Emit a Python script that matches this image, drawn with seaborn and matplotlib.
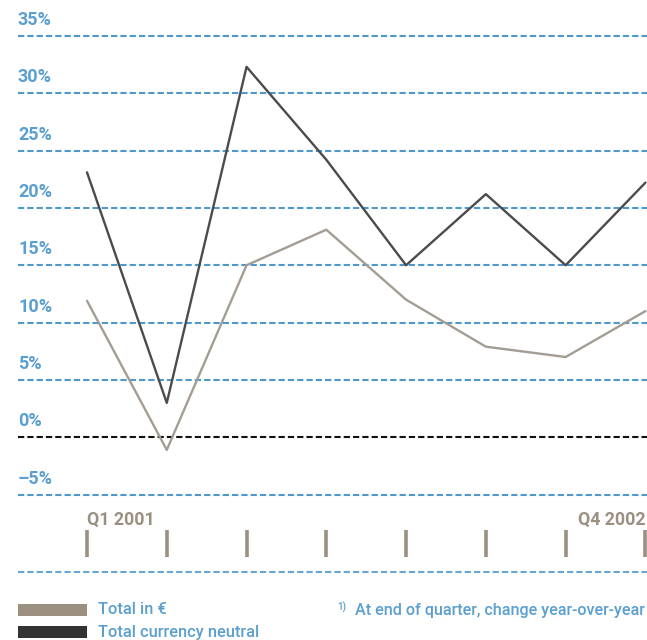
import numpy as np
import pandas as pd
import matplotlib
matplotlib.use("Agg")
import matplotlib.pyplot as plt
from matplotlib.patches import Rectangle
import seaborn as sns

# Quarterly growth, change year-over-year (%)
quarters = ["Q1 2001", "Q2 2001", "Q3 2001", "Q4 2001",
            "Q1 2002", "Q2 2002", "Q3 2002", "Q4 2002"]
total_eur = [11.9, -1.1, 15.0, 18.1, 12.0, 7.9, 7.0, 11.0]
total_cn = [23.1, 3.0, 32.3, 24.2, 15.0, 21.2, 15.0, 22.2]
series_names = ["Total in €", "Total currency neutral"]
y_levels = [35, 30, 25, 20, 15, 10, 5, 0, -5]
y_labels = ["35%", "30%", "25%", "20%", "15%", "10%", "5%", "0%", "–5%"]

BLUE = "#4f98cb"
BLUE_TXT = "#5a9fcf"
BEIGE = "#9b9080"
GREY_LINE = "#a39d94"
DARK_LINE = "#4b4b4d"
DARK_PATCH = "#333333"

sns.set_theme(style="white")
plt.rcParams["font.family"] = ["Roboto", "DejaVu Sans"]
plt.rcParams["lines.scale_dashes"] = False

W, H = 647, 640
fig = plt.figure(figsize=(W / 100, H / 100), dpi=100)
ax = fig.add_axes([0, 0, 1, 1])
ax.set_facecolor("white")

df = pd.DataFrame({
    "pos": list(range(len(quarters))) * 2,
    "value": total_eur + total_cn,
    "series": [series_names[0]] * len(quarters) + [series_names[1]] * len(quarters),
})

# axis scaling: first quarter at 87px, quarter spacing ~79.8px
step = 79.77
ax.set_xlim(-87 / step, len(quarters) - 1 + (W - 645.4) / step)
zero_px, per_pct = 437.3, 11.47
ax.set_ylim((zero_px - H) / per_pct, zero_px / per_pct)

x_left = 18 / W
dash = (0, (4.5, 2.2))

# horizontal guides
for lvl, lab in zip(y_levels, y_labels):
    col = "#111111" if lvl == 0 else BLUE
    ax.axhline(lvl, xmin=x_left, xmax=1, color=col, lw=1.5, linestyle=dash, zorder=1)
    ax.annotate(lab, xy=(x_left, lvl), xycoords=("axes fraction", "data"),
                xytext=(0, 11), textcoords="offset pixels",
                ha="left", va="baseline", fontsize=13, fontweight="bold",
                color=BLUE_TXT)

# separator below the quarter ticks
ax.axhline(ax.get_ylim()[0] + (H - 572) / per_pct, xmin=x_left, xmax=1,
           color=BLUE, lw=1.5, linestyle=dash, alpha=0.85)

sns.lineplot(data=df, x="pos", y="value", hue="series", ax=ax,
             palette={series_names[0]: GREY_LINE, series_names[1]: DARK_LINE},
             linewidth=1.7, legend=False, sort=False, zorder=3)

# quarter tick marks
xt = ax.get_xaxis_transform()
ax.vlines(range(len(quarters)), 1 - 557 / H, 1 - 530 / H, transform=xt,
          color=BEIGE, linewidth=2.6)
ax.text(0, 1 - 525 / H, quarters[0], transform=xt, ha="left", va="baseline",
        fontsize=12.8, fontweight="bold", color=BEIGE)
ax.text(len(quarters) - 1, 1 - 525 / H, quarters[-1], transform=xt, ha="right",
        va="baseline", fontsize=12.8, fontweight="bold", color=BEIGE)

ax.set_xlabel("")
ax.set_ylabel("")
ax.set_xticks([])
ax.set_yticks([])
for s in ax.spines.values():
    s.set_visible(False)

# legend
for name, col, yc in [(series_names[0], BEIGE, 610), (series_names[1], DARK_PATCH, 632)]:
    fig.add_artist(Rectangle((18 / W, 1 - (yc + 6) / H), 69 / W, 12 / H,
                             transform=fig.transFigure, color=col, lw=0))
    fig.text(98 / W, 1 - yc / H, name, ha="left", va="center",
             fontsize=11.8, fontweight="medium", color=BLUE_TXT)

# footnote
fig.text(645 / W, 1 - 611 / H, "At end of quarter, change year-over-year",
         ha="right", va="center", fontsize=11.6, fontweight="medium", color=BLUE_TXT)
fig.text(337 / W, 1 - 607 / H, "1)", ha="left", va="center",
         fontsize=7, fontweight="medium", color=BLUE_TXT)

fig.savefig("out.png", dpi=100, facecolor="white")
